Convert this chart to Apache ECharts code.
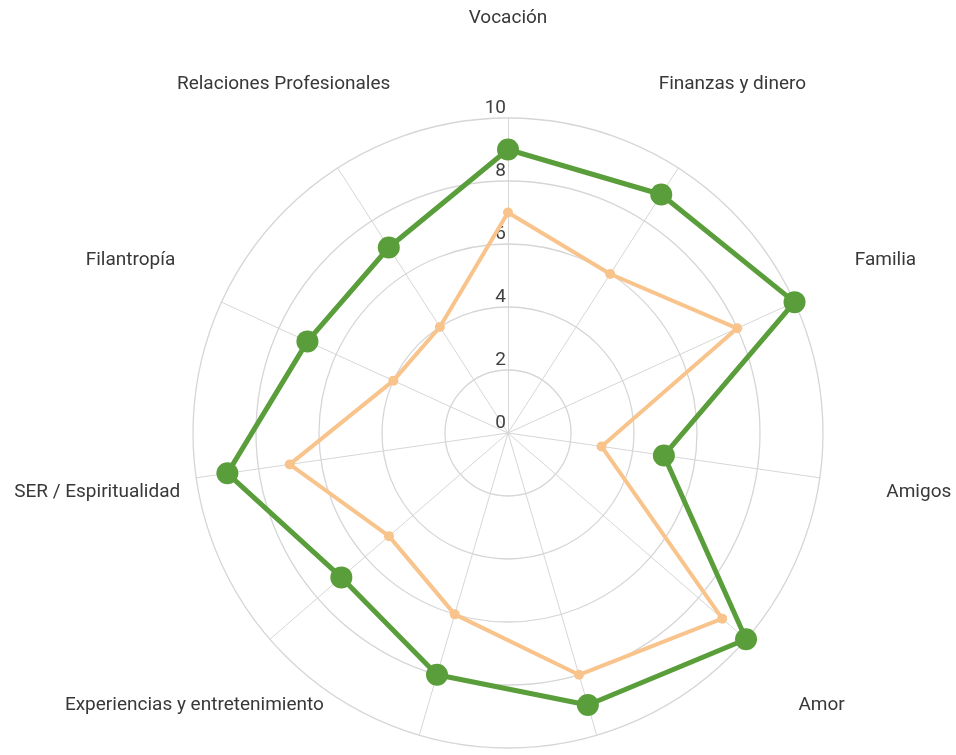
<!DOCTYPE html>
<html>
<head>
<meta charset="utf-8">
<script src="https://cdn.jsdelivr.net/npm/echarts@6/dist/echarts.min.js"></script>
<style>
html,body{margin:0;padding:0;background:#fff;}
#chart{width:956px;height:755px;}
</style>
</head>
<body>
<div id="chart"></div>
<script>
// indicadores (orden antihorario, como los coloca echarts)
var areas = ['Vocación', 'Relaciones Profesionales', 'Filantropía', 'SER / Espiritualidad',
	'Experiencias y entretenimiento', 'Desarrollo Personal', 'Salud', 'Amor', 'Amigos', 'Familia', 'Finanzas y dinero'];
// deseado (verde) y actual (naranja)
var deseado = [9, 7, 7, 9, 7, 8, 9, 10, 5, 10, 9];
var actual = [7, 4, 4, 7, 5, 6, 8, 9, 3, 8, 6];
var maxValor = 10;

var myChart = echarts.init(document.getElementById('chart'));

var indicator = [];
for (var i = 0; i < areas.length; i++) {
	var item = {name: areas[i], min: 0, max: maxValor};
	// solo el primer eje lleva numeros
	if (i == 0) {
		item.axisLabel = {show: true};
	}
	indicator.push(item);
}

var option = {
	animation: false,
	radar: {
		shape: 'circle',
		center: [508, 433],
		radius: 315,
		splitNumber: 5,
		nameGap: 100,
		indicator: indicator,
		axisName: {
			color: '#383838',
			fontFamily: 'Roboto',
			fontSize: 19,
			align: 'center',
			verticalAlign: 'middle'
		},
		axisLabel: {
			show: false,
			color: '#404040',
			fontFamily: 'Roboto',
			fontSize: 19,
			margin: 2,
			align: 'right',
			verticalAlign: 'bottom'
		},
		axisLine: {lineStyle: {color: '#d6d6d6', width: 1}},
		splitLine: {lineStyle: {color: '#d6d6d6', width: 1.3}},
		splitArea: {show: false}
	},
	series: [{
		type: 'radar',
		z: 2,
		data: [{
			value: actual,
			name: 'Actual',
			symbol: 'circle',
			symbolSize: 10,
			lineStyle: {color: '#f8c48c', width: 4},
			itemStyle: {color: '#f8c48c'}
		}]
	}, {
		type: 'radar',
		z: 3,
		data: [{
			value: deseado,
			name: 'Deseado',
			symbol: 'circle',
			symbolSize: 22,
			lineStyle: {color: '#5a9e3b', width: 5},
			itemStyle: {color: '#5a9e3b'}
		}]
	}]
};
myChart.setOption(option);
</script>
</body>
</html>
